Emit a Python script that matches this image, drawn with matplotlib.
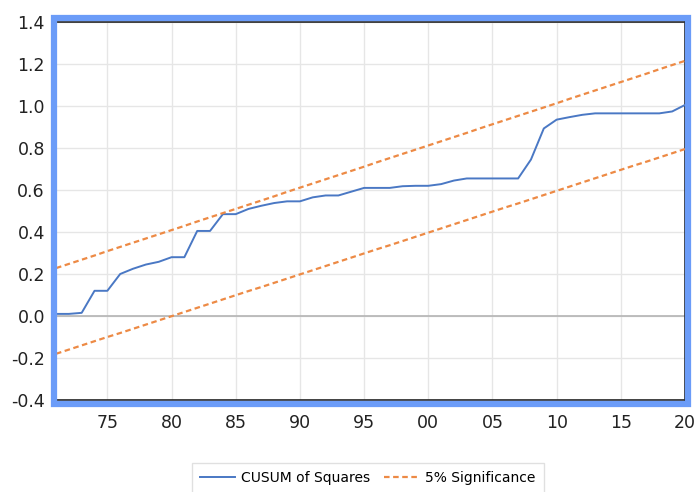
import numpy as np
import matplotlib
matplotlib.use("Agg")
import matplotlib.pyplot as plt
from matplotlib.patches import Rectangle

# ==========================
# data
# ==========================
years = list(range(1971, 2021))

cusum_sq = [0.010, 0.010, 0.015, 0.120, 0.120, 0.200, 0.225, 0.245, 0.258, 0.280,
            0.280, 0.405, 0.405, 0.485, 0.485, 0.510, 0.525, 0.538, 0.546, 0.546,
            0.565, 0.574, 0.574, 0.592, 0.610, 0.610, 0.610, 0.618, 0.620, 0.620,
            0.628, 0.645, 0.655, 0.655, 0.655, 0.655, 0.655, 0.745, 0.893, 0.935,
            0.947, 0.958, 0.965, 0.965, 0.965, 0.965, 0.965, 0.965, 0.974, 1.005]

upper_5 = [0.228, 0.248, 0.268, 0.288, 0.309, 0.329, 0.349, 0.369, 0.389, 0.409,
           0.429, 0.450, 0.470, 0.490, 0.510, 0.530, 0.550, 0.570, 0.591, 0.611,
           0.631, 0.651, 0.671, 0.691, 0.711, 0.732, 0.752, 0.772, 0.792, 0.812,
           0.832, 0.852, 0.872, 0.893, 0.913, 0.933, 0.953, 0.973, 0.993, 1.013,
           1.034, 1.054, 1.074, 1.094, 1.114, 1.134, 1.154, 1.175, 1.195, 1.215]

lower_5 = [-0.180, -0.160, -0.140, -0.120, -0.100, -0.081, -0.061, -0.041, -0.021, -0.001,
           0.019, 0.039, 0.059, 0.079, 0.099, 0.119, 0.138, 0.158, 0.178, 0.198,
           0.218, 0.238, 0.258, 0.278, 0.298, 0.318, 0.337, 0.357, 0.377, 0.397,
           0.417, 0.437, 0.457, 0.477, 0.497, 0.517, 0.536, 0.556, 0.576, 0.596,
           0.616, 0.636, 0.656, 0.676, 0.696, 0.716, 0.735, 0.755, 0.775, 0.795]

xticks = [1975, 1980, 1985, 1990, 1995, 2000, 2005, 2010, 2015, 2020]
xtick_labels = ["75", "80", "85", "90", "95", "00", "05", "10", "15", "20"]
yticks = [-0.4, -0.2, 0.0, 0.2, 0.4, 0.6, 0.8, 1.0, 1.2, 1.4]

# ==========================
# figure
# ==========================
W, H = 695, 492
fig = plt.figure(figsize=(W / 100, H / 100), dpi=100)
ax = fig.add_axes([56 / W, 1 - 400 / H, (685 - 56) / W, (400 - 22) / H])

# blue outer frame
fig.patches.append(Rectangle((53.5 / W, 1 - 403.5 / H), (687.5 - 53.5) / W, (403.5 - 18) / H,
                             transform=fig.transFigure, fill=False,
                             edgecolor="#6b9cf8", linewidth=4.5, zorder=0))

ax.plot(years, cusum_sq, color="#4a78c4", lw=1.4, label="CUSUM of Squares", zorder=3)
ax.plot(years, upper_5, color="#ed8a45", lw=1.6, ls=(0, (2.5, 1.6)),
        label="5% Significance", zorder=3)
ax.plot(years, lower_5, color="#ed8a45", lw=1.6, ls=(0, (2.5, 1.6)), zorder=3)

ax.axhline(0, color="#b4b4b4", lw=1.2, zorder=2)

ax.set_xlim(1971, 2020)
ax.set_ylim(-0.4, 1.4)
ax.set_xticks(xticks)
ax.set_xticklabels(xtick_labels)
ax.set_yticks(yticks)
ax.set_yticklabels([f"{v:.1f}" for v in yticks])
ax.tick_params(length=0, labelsize=12.5, colors="#222222")
ax.tick_params(axis="y", pad=8)
ax.tick_params(axis="x", pad=10)
ax.grid(True, color="#e6e6e6", lw=1.0, zorder=1)
ax.set_axisbelow(True)

for s in ax.spines.values():
    s.set_color("#222222")
    s.set_linewidth(1.2)

fig.legend(loc="upper center", bbox_to_anchor=(368 / W, 1 - 456 / H), ncol=2,
           frameon=True, fancybox=False, edgecolor="#d9d9d9", fontsize=10,
           handlelength=2.5, handletextpad=0.45, columnspacing=1.0, borderpad=0.6)

fig.savefig("out.png", dpi=100)
